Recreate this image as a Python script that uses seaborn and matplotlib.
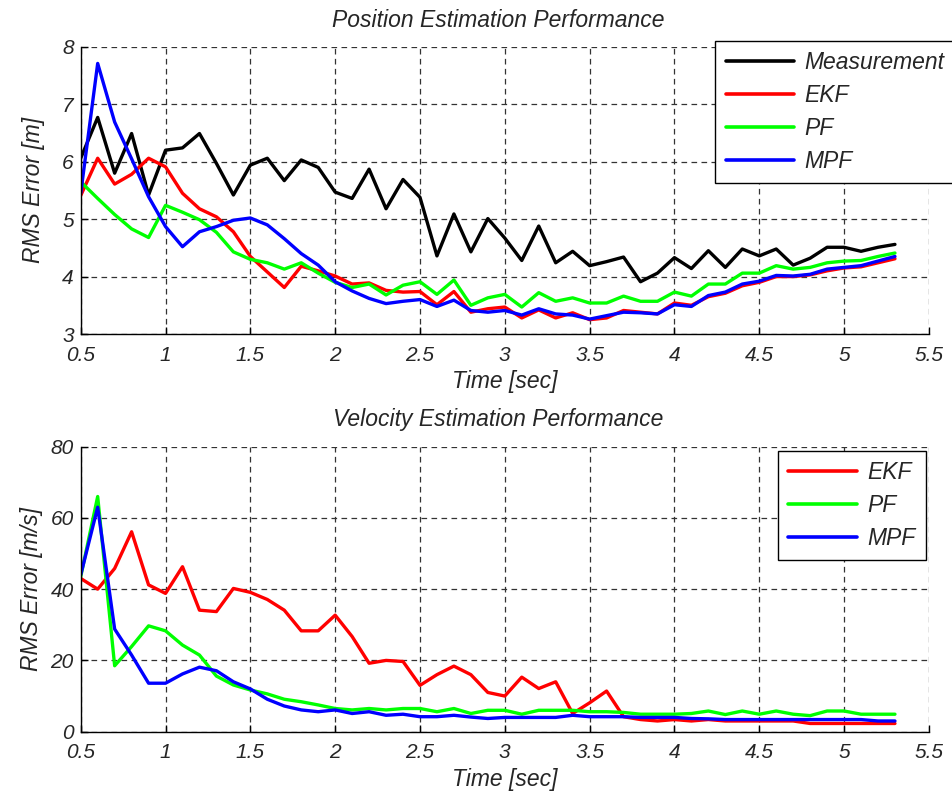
import numpy as np
import pandas as pd
import matplotlib
matplotlib.use("Agg")
import matplotlib.pyplot as plt
import seaborn as sns

# ---------------- data ----------------
time = [round(0.5 + 0.1 * i, 1) for i in range(49)]

pos_measurement = [6.06, 6.77, 5.80, 6.49, 5.42, 6.20, 6.24, 6.49, 5.97, 5.42,
                   5.94, 6.06, 5.67, 6.03, 5.90, 5.47, 5.36, 5.87, 5.18, 5.69,
                   5.38, 4.36, 5.09, 4.43, 5.01, 4.67, 4.28, 4.88, 4.24, 4.44,
                   4.19, 4.26, 4.34, 3.91, 4.06, 4.33, 4.14, 4.45, 4.16, 4.48,
                   4.36, 4.48, 4.20, 4.32, 4.51, 4.51, 4.44, 4.51, 4.56]
pos_ekf = [5.41, 6.06, 5.61, 5.78, 6.06, 5.91, 5.45, 5.18, 5.04, 4.78,
           4.35, 4.08, 3.81, 4.18, 4.10, 4.01, 3.87, 3.89, 3.76, 3.73,
           3.74, 3.51, 3.74, 3.38, 3.44, 3.47, 3.28, 3.42, 3.28, 3.37,
           3.25, 3.28, 3.41, 3.38, 3.35, 3.54, 3.50, 3.65, 3.71, 3.84,
           3.90, 4.00, 4.00, 4.03, 4.10, 4.15, 4.17, 4.24, 4.31]
pos_pf = [5.65, 5.36, 5.08, 4.83, 4.68, 5.24, 5.12, 4.99, 4.77, 4.43,
          4.30, 4.24, 4.13, 4.24, 4.06, 3.90, 3.81, 3.87, 3.68, 3.85,
          3.91, 3.69, 3.94, 3.50, 3.63, 3.69, 3.47, 3.72, 3.57, 3.63,
          3.54, 3.54, 3.66, 3.57, 3.57, 3.73, 3.66, 3.87, 3.87, 4.06,
          4.06, 4.19, 4.13, 4.16, 4.24, 4.27, 4.28, 4.35, 4.41]
pos_mpf = [5.45, 7.71, 6.69, 6.05, 5.39, 4.87, 4.52, 4.78, 4.87, 4.98,
           5.02, 4.90, 4.66, 4.40, 4.20, 3.91, 3.75, 3.62, 3.53, 3.57,
           3.60, 3.48, 3.59, 3.41, 3.38, 3.41, 3.33, 3.44, 3.35, 3.33,
           3.26, 3.32, 3.38, 3.37, 3.35, 3.51, 3.48, 3.67, 3.73, 3.87,
           3.92, 4.02, 4.01, 4.04, 4.13, 4.16, 4.19, 4.27, 4.35]

vel_ekf = [43.0, 40.0, 45.8, 56.1, 41.2, 38.8, 46.3, 34.1, 33.7, 40.2,
           39.1, 37.1, 34.1, 28.3, 28.3, 32.7, 26.7, 19.2, 20.0, 19.7,
           13.0, 16.0, 18.4, 16.0, 11.0, 10.0, 15.3, 12.1, 14.0, 5.1,
           8.1, 11.4, 4.2, 3.4, 3.0, 3.4, 3.0, 3.4, 3.0, 3.0,
           3.0, 3.0, 3.0, 2.3, 2.3, 2.3, 2.3, 2.3, 2.3]
vel_pf = [43.5, 66.0, 18.5, 23.9, 29.7, 28.3, 24.3, 21.5, 15.6, 13.1,
          11.7, 10.6, 9.1, 8.4, 7.5, 6.5, 6.1, 6.5, 6.1, 6.5,
          6.5, 5.6, 6.5, 5.1, 6.0, 6.0, 4.9, 6.0, 6.0, 6.0,
          5.6, 5.6, 5.4, 4.9, 4.9, 4.9, 5.1, 5.8, 4.8, 5.8,
          4.9, 5.8, 4.9, 4.5, 5.8, 5.8, 4.9, 4.9, 4.9]
vel_mpf = [44.0, 63.0, 28.8, 21.5, 13.6, 13.6, 16.2, 18.1, 17.1, 14.0,
           12.0, 9.1, 7.2, 6.1, 5.6, 6.1, 5.1, 5.6, 4.6, 4.9,
           4.2, 4.2, 4.6, 4.1, 3.7, 4.0, 4.0, 4.0, 4.0, 4.6,
           4.2, 4.2, 4.2, 4.0, 4.0, 4.0, 3.7, 3.6, 3.4, 3.4,
           3.4, 3.4, 3.4, 3.4, 3.4, 3.4, 3.4, 3.0, 3.0]

x_ticks = [0.5, 1, 1.5, 2, 2.5, 3, 3.5, 4, 4.5, 5, 5.5]
x_tick_labels = ["0.5", "1", "1.5", "2", "2.5", "3", "3.5", "4", "4.5", "5", "5.5"]
pos_y_ticks = [3, 4, 5, 6, 7, 8]
vel_y_ticks = [0, 20, 40, 60, 80]

colors = {"Measurement": "#000000", "EKF": "#ff0000", "PF": "#00ff00", "MPF": "#0000ff"}

pos_df = pd.DataFrame({"Time": time * 4,
                       "RMS": pos_measurement + pos_ekf + pos_pf + pos_mpf,
                       "Method": (["Measurement"] * len(time) + ["EKF"] * len(time)
                                  + ["PF"] * len(time) + ["MPF"] * len(time))})
vel_df = pd.DataFrame({"Time": time * 3,
                       "RMS": vel_ekf + vel_pf + vel_mpf,
                       "Method": ["EKF"] * len(time) + ["PF"] * len(time) + ["MPF"] * len(time)})

# ---------------- style ----------------
sns.set_style("white")
plt.rcParams["font.family"] = ["Liberation Sans", "DejaVu Sans"]
plt.rcParams["font.style"] = "italic"

fig = plt.figure(figsize=(9.53, 7.94), dpi=100)
ax1 = fig.add_axes([0.0847, 0.5793, 0.890, 0.3618])
ax2 = fig.add_axes([0.0847, 0.0785, 0.890, 0.3590])

TICK_FS = 15.0
LAB_FS = 16.5


def style_axes(ax, yticks, ylabel, title, ylab_x):
    ax.set_xlim(0.5, 5.5)
    ax.set_ylim(yticks[0], yticks[-1])
    ax.set_xticks(x_ticks)
    ax.set_xticklabels(x_tick_labels, fontsize=TICK_FS, style="italic")
    ax.set_yticks(yticks)
    ax.set_yticklabels([str(v) for v in yticks], fontsize=TICK_FS, style="italic")
    ax.grid(True, color="#333333", linestyle=(0, (4.5, 3.5)), linewidth=0.9)
    for s in ["top", "right"]:
        ax.spines[s].set_visible(False)
    for s in ["left", "bottom"]:
        ax.spines[s].set_color("black")
        ax.spines[s].set_linewidth(1.0)
    ax.tick_params(direction="in", length=5, width=1, color="black",
                   left=True, bottom=True)
    ax.tick_params(axis="x", pad=8.5)
    ax.tick_params(axis="y", pad=5)
    ax.set_xlabel("Time [sec]", fontsize=LAB_FS, style="italic", labelpad=4)
    ax.set_ylabel(ylabel, fontsize=LAB_FS, style="italic")
    ax.yaxis.set_label_coords(ylab_x, 0.5)
    ax.set_title(title, fontsize=LAB_FS, style="italic", pad=14.5, x=0.492)


sns.lineplot(data=pos_df, x="Time", y="RMS", hue="Method", palette=colors,
             hue_order=["Measurement", "EKF", "PF", "MPF"], linewidth=2.4, ax=ax1)
style_axes(ax1, pos_y_ticks, "RMS Error [m]", "Position Estimation Performance", -0.042)

sns.lineplot(data=vel_df, x="Time", y="RMS", hue="Method", palette=colors,
             hue_order=["EKF", "PF", "MPF"], linewidth=2.4, ax=ax2)
style_axes(ax2, vel_y_ticks, "RMS Error [m/s]", "Velocity Estimation Performance", -0.045)

for ax, anchor in [(ax1, (955 / 953, 1 - 41 / 794)), (ax2, (926 / 953, 1 - 451 / 794))]:
    h, l = ax.get_legend_handles_labels()
    leg = ax.legend(h, l, loc="upper right", bbox_to_anchor=anchor,
                    bbox_transform=fig.transFigure, borderaxespad=0,
                    fancybox=False, framealpha=1, edgecolor="black",
                    prop={"family": ["Liberation Sans"], "style": "italic", "size": LAB_FS},
                    handlelength=3.0, handletextpad=0.45, labelspacing=0.43,
                    borderpad=0.45)
    leg.get_frame().set_linewidth(1.0)
    for line in leg.get_lines():
        line.set_linewidth(2.6)

fig.savefig("out.png", dpi=100)
